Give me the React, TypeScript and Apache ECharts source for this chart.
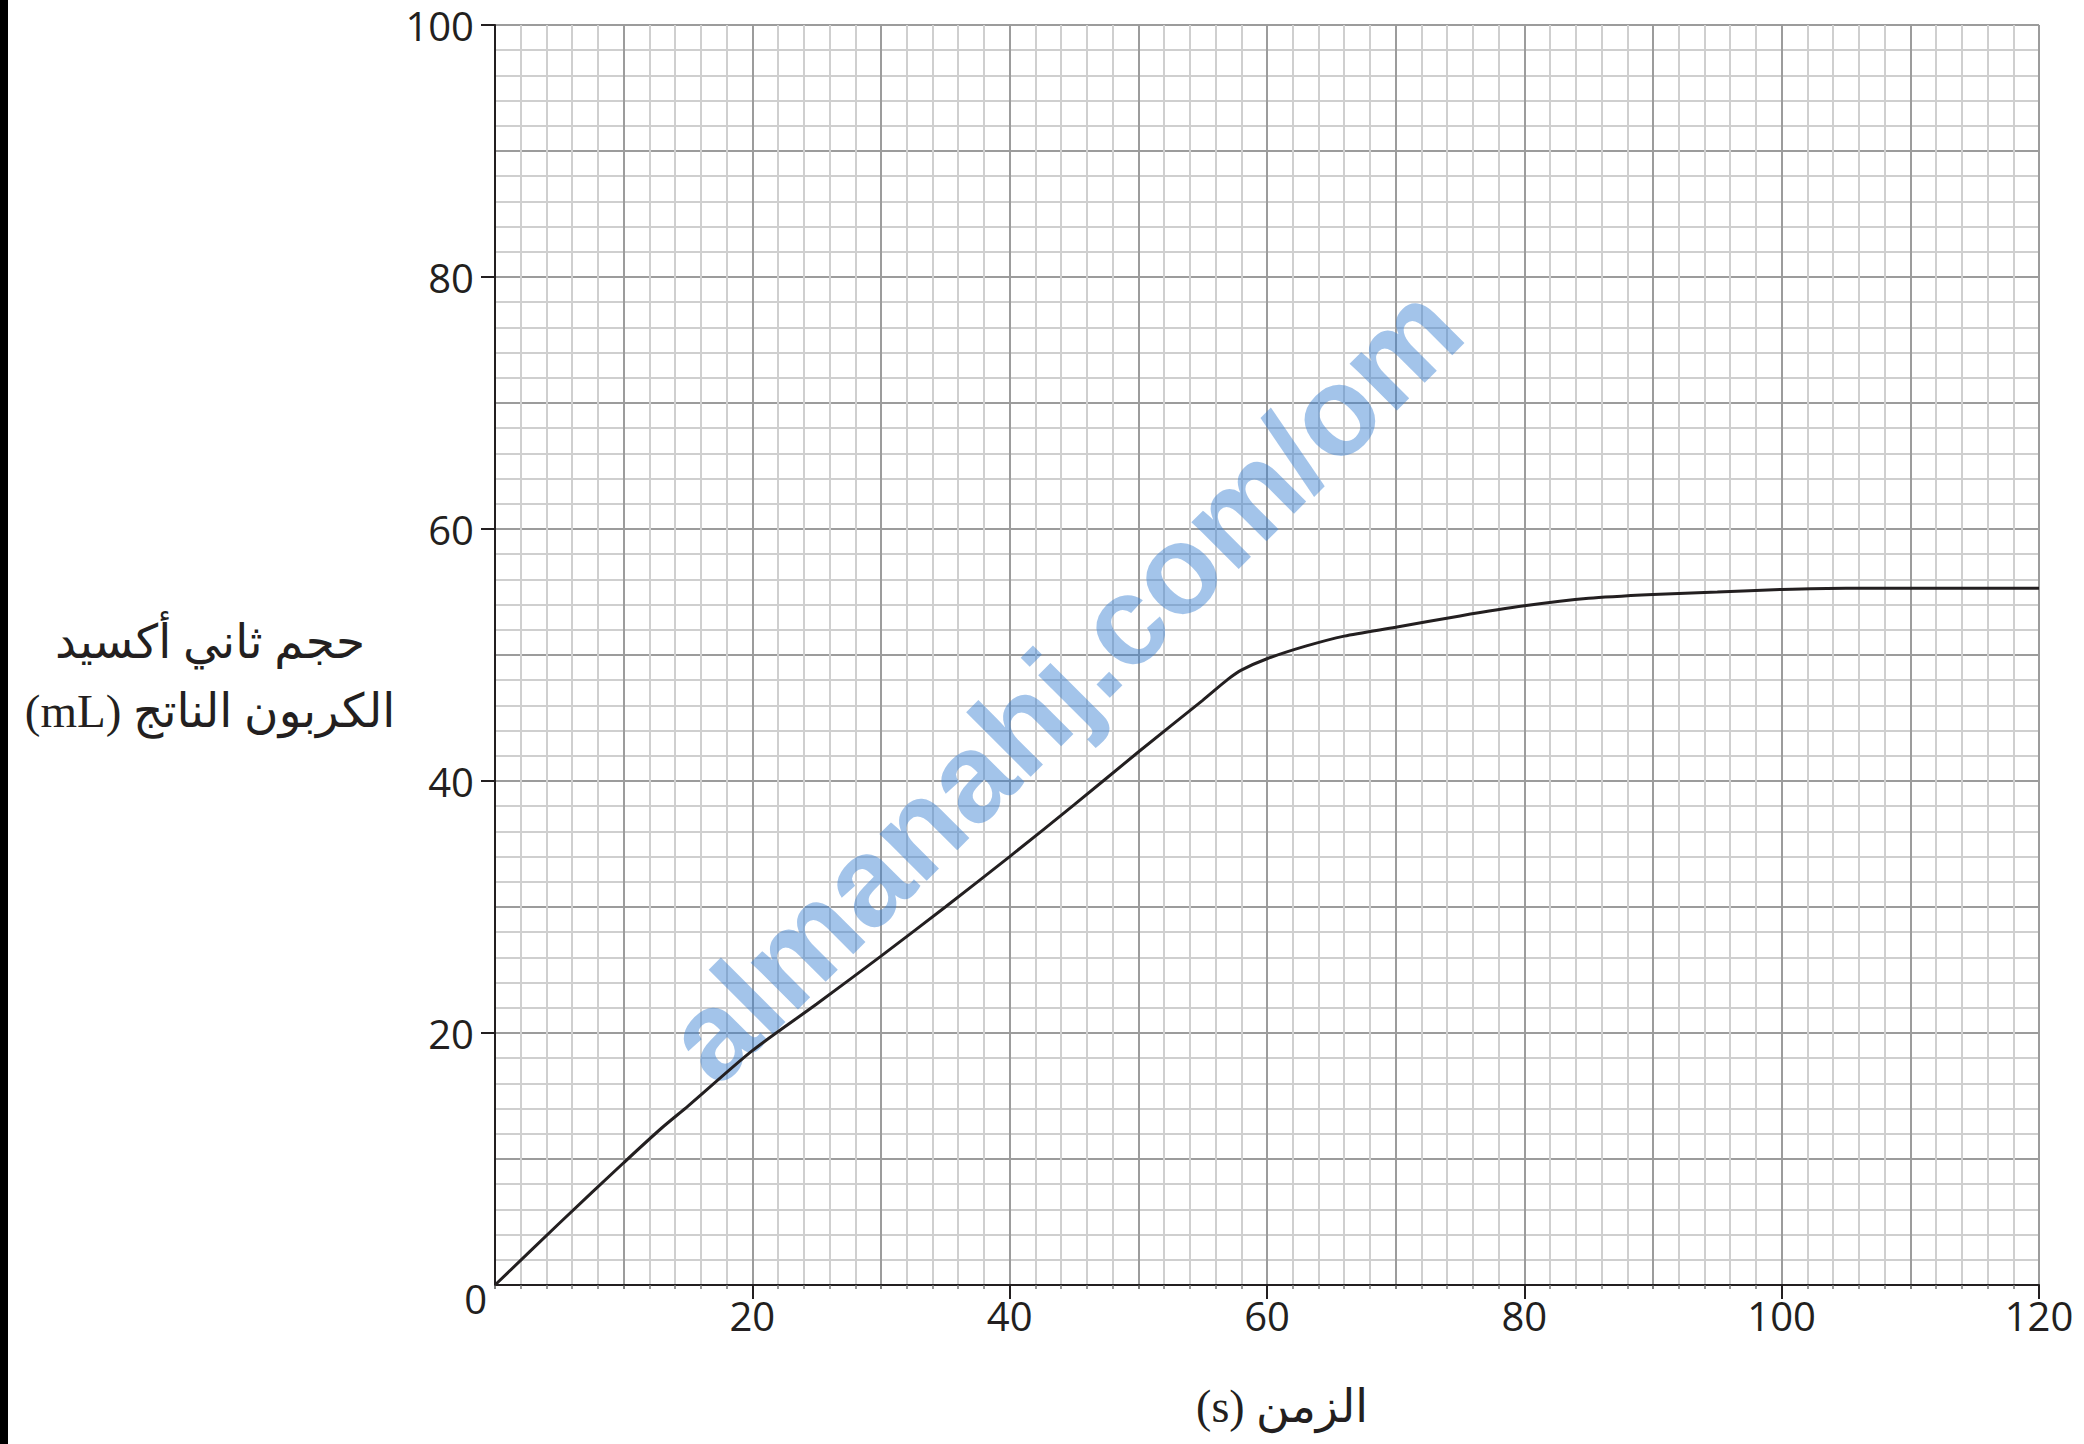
import React, { useEffect, useRef } from "react";
import * as echarts from "echarts";

// ---- data ----
const timeSeconds = [0, 5, 10, 13, 15, 20, 25, 30, 35, 40, 45, 50, 55, 57, 58, 60, 63, 66, 70, 75, 80, 85, 90, 95, 100, 105, 110, 120];
const co2Volume = [0, 4.9, 9.7, 12.5, 14.2, 18.6, 22.3, 26.1, 30.0, 34.0, 38.1, 42.3, 46.4, 48.1, 48.8, 49.7, 50.7, 51.5, 52.2, 53.1, 53.9, 54.5, 54.8, 55.0, 55.2, 55.3, 55.3, 55.3];
const xMin = 0;
const xMax = 120;
const yMin = 0;
const yMax = 100;
const labelStep = 20;
const gridStep = 10;
const xTitle = "الزمن (s)";
const yTitleLines = ["حجم ثاني أكسيد", "الكربون الناتج (mL)"];
const originLabel = "0";
const watermark = "almanahj.com/om";

const rtl = (s: string) => "\u202B" + s + "\u202C";

export default function App() {
  const ref = useRef<HTMLDivElement>(null);
  useEffect(() => {
    if (!ref.current) return;
    const chart = echarts.init(ref.current, undefined, { renderer: "svg" });
    const labelFont = '"Open Sans", "Liberation Sans", sans-serif';
    const arabicFont = '"Liberation Serif", "DejaVu Sans", serif';
    const gridMajor = "#9c9c9c";
    const gridMinor = "#cfcfcf";
    const ink = "#231f20";

    chart.setOption({
      animation: false,
      backgroundColor: "#ffffff",
      grid: { left: 495, top: 25, right: 45, bottom: 159, containLabel: false },
      xAxis: [
        {
          type: "value",
          min: xMin,
          max: xMax,
          interval: gridStep,
          position: "bottom",
          axisLine: { show: true, onZero: false, lineStyle: { color: ink, width: 2 } },
          axisTick: { show: true, length: 4, lineStyle: { color: "#555", width: 1.5 } },
          minorTick: { show: true, splitNumber: 5, length: 4, lineStyle: { color: "#777", width: 1.5 } },
          axisLabel: { show: false },
          splitLine: { show: true, lineStyle: { color: gridMajor, width: 2 } },
          minorSplitLine: { show: true, lineStyle: { color: gridMinor, width: 2 } },
          name: rtl(xTitle),
          nameLocation: "middle",
          nameGap: 121,
          nameTextStyle: {
            fontFamily: arabicFont,
            fontSize: 46,
            color: ink,
            align: "center",
            verticalAlign: "middle",
            padding: [0, 0, 0, 30],
          },
        },
        {
          type: "value",
          min: xMin,
          max: xMax,
          interval: labelStep,
          position: "bottom",
          axisLine: { show: false, onZero: false },
          axisTick: { show: true, length: 14, lineStyle: { color: ink, width: 2 } },
          axisLabel: {
            show: true,
            showMinLabel: false,
            margin: 12,
            fontFamily: labelFont,
            fontSize: 40,
            lineHeight: 36,
            color: ink,
          },
          splitLine: { show: false },
        },
      ],
      yAxis: [
        {
          type: "value",
          min: yMin,
          max: yMax,
          interval: gridStep,
          position: "left",
          axisLine: { show: true, onZero: false, lineStyle: { color: ink, width: 2 } },
          axisTick: { show: false },
          axisLabel: { show: false },
          minorTick: { show: false, splitNumber: 5 },
          splitLine: { show: true, lineStyle: { color: gridMajor, width: 2 } },
          minorSplitLine: { show: true, lineStyle: { color: gridMinor, width: 2 } },
        },
        {
          type: "value",
          min: yMin,
          max: yMax,
          interval: labelStep,
          position: "left",
          axisLine: { show: false, onZero: false },
          axisTick: { show: true, length: 14, lineStyle: { color: ink, width: 2 } },
          axisLabel: {
            show: true,
            showMinLabel: false,
            margin: 21,
            fontFamily: labelFont,
            fontSize: 40,
            lineHeight: 36,
            color: ink,
          },
          splitLine: { show: false },
        },
      ],
      series: [
        {
          type: "line",
          xAxisIndex: 0,
          yAxisIndex: 0,
          data: timeSeconds.map((t, i) => [t, co2Volume[i]]),
          smooth: 0.25,
          showSymbol: false,
          symbol: "none",
          z: 5,
          lineStyle: { color: ink, width: 3 },
        },
      ],
    });

    const origin = chart.convertToPixel({ gridIndex: 0 }, [xMin, yMin]) as number[];
    chart.setOption({
      graphic: [
        {
          id: "leftBar",
          type: "rect",
          x: 0,
          y: 0,
          shape: { width: 8, height: 1444 },
          style: { fill: "#000000" },
          z: 10,
        },
        {
          id: "yTitle",
          type: "text",
          x: origin[0] - 285,
          y: origin[1] - 609,
          style: {
            text: yTitleLines.map(rtl).join("\n"),
            fontFamily: arabicFont,
            fontSize: 47,
            lineHeight: 69,
            fill: ink,
            align: "center",
            verticalAlign: "middle",
          },
          z: 10,
        },
        {
          id: "originLabel",
          type: "text",
          x: origin[0] - 8,
          y: origin[1] + 13,
          style: {
            text: originLabel,
            fontFamily: labelFont,
            fontSize: 40,
            fill: ink,
            align: "right",
            verticalAlign: "middle",
          },
          z: 10,
        },
        {
          id: "watermark",
          type: "text",
          x: 1063,
          y: 683,
          rotation: Math.PI / 4,
          style: {
            text: watermark,
            fontFamily: '"Liberation Sans", Arial, sans-serif',
            fontWeight: "bold",
            fontSize: 126,
            fill: "rgba(60,130,210,0.47)",
            align: "center",
            verticalAlign: "middle",
          },
          z: 3,
        },
      ],
    });

    return () => chart.dispose();
  }, []);
  return (
    <div
      ref={ref}
      style={{ position: "fixed", left: 0, top: 0, width: 2084, height: 1444, background: "#fff" }}
    />
  );
}
